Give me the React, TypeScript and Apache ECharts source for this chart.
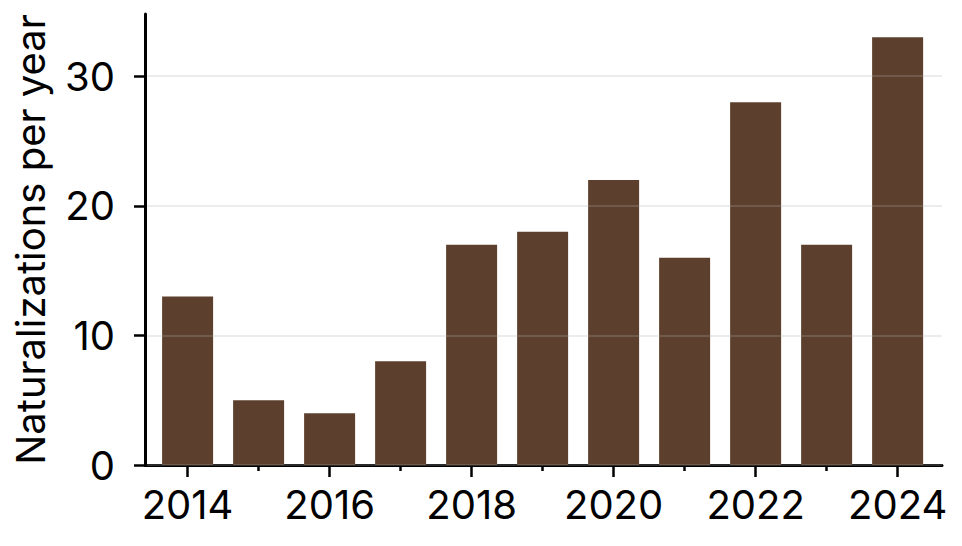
import { useEffect, useRef } from 'react';
import * as echarts from 'echarts';

const years = [2014, 2015, 2016, 2017, 2018, 2019, 2020, 2021, 2022, 2023, 2024];
const naturalizations = [13, 5, 4, 8, 17, 18, 22, 16, 28, 17, 33];
const yTicks = [0, 10, 20, 30];
const majorYears = [2014, 2016, 2018, 2020, 2022, 2024];
const minorYears = [2015, 2017, 2019, 2021, 2023];

const FONT = 'Inter, "Liberation Sans", sans-serif';
const INK = '#000000';

export default function App() {
  const containerRef = useRef<HTMLDivElement>(null);

  useEffect(() => {
    if (!containerRef.current) return;
    const chart = echarts.init(containerRef.current, undefined, { renderer: 'svg' });

    const option: echarts.EChartsOption = {
      animation: false,
      grid: { left: 145, right: 20, top: 14, bottom: 81 },
      xAxis: [
        {
          type: 'value',
          min: 2013.4,
          max: 2024.625,
          axisLine: { show: true, lineStyle: { color: INK, width: 3 } },
          axisTick: { show: true, length: 12, customValues: majorYears, lineStyle: { color: INK, width: 2.5 } },
          axisLabel: {
            customValues: majorYears,
            color: INK,
            fontFamily: FONT,
            fontSize: 40,
            margin: 19,
            formatter: (v: number) => String(v)
          },
          splitLine: { show: false }
        },
        {
          type: 'value',
          position: 'bottom',
          min: 2013.4,
          max: 2024.625,
          axisLine: { show: false },
          axisTick: { show: true, length: 6, customValues: minorYears, lineStyle: { color: INK, width: 2.5 } },
          axisLabel: { show: false },
          splitLine: { show: false }
        }
      ],
      yAxis: {
        type: 'value',
        min: 0,
        max: 34.8,
        z: 5,
        name: 'Naturalizations per year',
        nameLocation: 'middle',
        nameGap: 95,
        nameTextStyle: { color: INK, fontFamily: FONT, fontSize: 40 },
        axisLine: { show: true, lineStyle: { color: INK, width: 3 } },
        axisTick: { show: true, length: 11, customValues: yTicks, lineStyle: { color: INK, width: 2.5 } },
        axisLabel: { customValues: yTicks, color: INK, fontFamily: FONT, fontSize: 40, margin: 30 },
        splitLine: { show: true, lineStyle: { color: 'rgba(176,176,176,0.24)', width: 2 } }
      },
      series: [
        {
          type: 'bar',
          xAxisIndex: 0,
          barWidth: 51,
          itemStyle: { color: '#5c402d' },
          data: years.map((y, i) => [y, naturalizations[i]])
        }
      ]
    };

    chart.setOption(option);
    return () => chart.dispose();
  }, []);

  return (
    <div
      ref={containerRef}
      style={{ position: 'absolute', left: 0, top: 0, width: 962, height: 546 }}
    />
  );
}
